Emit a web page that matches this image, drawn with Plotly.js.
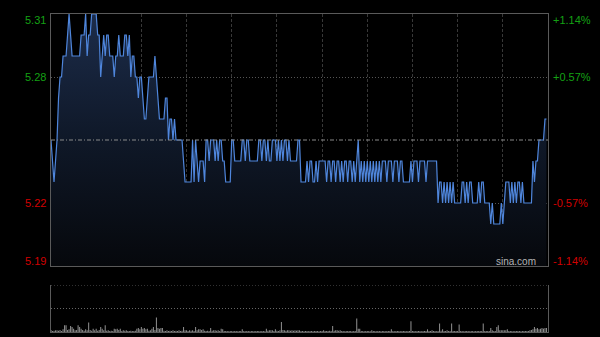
<!DOCTYPE html>
<html>
<head>
<meta charset="utf-8">
<script src="https://cdn.plot.ly/plotly-3.0.1.min.js"></script>
<style>
  html, body { margin: 0; padding: 0; background: #000; }
  #chart { width: 600px; height: 337px; }
</style>
</head>
<body>
<div id="chart"></div>
<script>
// ---- data (one value per trading minute, HK session 09:30-16:00) ----
const prices = [
  5.25,5.24,5.23,5.24,5.25,5.27,5.28,5.28,5.29,5.29,
  5.29,5.30,5.31,5.30,5.29,5.29,5.29,5.29,5.29,5.29,
  5.30,5.30,5.30,5.31,5.29,5.30,5.30,5.31,5.31,5.31,
  5.31,5.30,5.30,5.28,5.29,5.30,5.29,5.30,5.30,5.29,
  5.29,5.29,5.28,5.29,5.29,5.30,5.29,5.29,5.29,5.30,
  5.30,5.29,5.30,5.28,5.29,5.29,5.28,5.28,5.27,5.28,
  5.28,5.27,5.26,5.26,5.27,5.28,5.28,5.28,5.28,5.29,
  5.28,5.27,5.26,5.26,5.26,5.26,5.27,5.27,5.25,5.26,
  5.26,5.25,5.26,5.25,5.25,5.25,5.25,5.25,5.24,5.23,
  5.23,5.23,5.23,5.23,5.25,5.23,5.25,5.24,5.23,5.24,
  5.24,5.24,5.23,5.25,5.25,5.24,5.25,5.25,5.25,5.24,
  5.25,5.24,5.25,5.25,5.24,5.24,5.23,5.23,5.23,5.23,
  5.25,5.25,5.24,5.24,5.24,5.24,5.24,5.25,5.25,5.24,
  5.25,5.25,5.24,5.24,5.24,5.24,5.24,5.24,5.25,5.25,
  5.24,5.25,5.25,5.24,5.25,5.24,5.24,5.25,5.25,5.25,
  5.24,5.25,5.24,5.25,5.24,5.25,5.25,5.24,5.25,5.24,
  5.24,5.24,5.24,5.24,5.25,5.25,5.23,5.23,5.23,5.23,
  5.24,5.23,5.24,5.24,5.23,5.23,5.24,5.23,5.24,5.24,
  5.24,5.24,5.24,5.23,5.24,5.24,5.23,5.24,5.24,5.23,
  5.24,5.24,5.23,5.24,5.23,5.24,5.24,5.23,5.24,5.24,
  5.23,5.24,5.23,5.24,5.25,5.23,5.24,5.23,5.24,5.23,
  5.24,5.23,5.24,5.23,5.24,5.23,5.24,5.23,5.24,5.23,
  5.24,5.24,5.24,5.23,5.24,5.24,5.24,5.23,5.24,5.24,
  5.24,5.23,5.24,5.24,5.23,5.23,5.23,5.23,5.23,5.24,
  5.23,5.24,5.24,5.24,5.23,5.24,5.24,5.24,5.24,5.23,
  5.24,5.24,5.24,5.24,5.24,5.24,5.24,5.22,5.23,5.23,
  5.22,5.23,5.22,5.23,5.22,5.23,5.22,5.23,5.22,5.22,
  5.22,5.22,5.22,5.23,5.23,5.22,5.23,5.22,5.23,5.23,
  5.22,5.22,5.22,5.22,5.23,5.22,5.23,5.23,5.22,5.22,
  5.22,5.22,5.21,5.22,5.21,5.21,5.21,5.21,5.21,5.22,
  5.21,5.22,5.23,5.23,5.23,5.22,5.23,5.22,5.23,5.22,
  5.23,5.23,5.22,5.23,5.22,5.22,5.22,5.22,5.22,5.22,
  5.24,5.23,5.24,5.24,5.25,5.25,5.25,5.25,5.26,5.26
];
const volumes = [
  6,3,4,5,5,4,6,3,8,20,
  20,6,8,18,15,10,5,6,20,15,
  10,6,4,8,5,28,6,4,10,5,
  10,4,6,15,10,5,20,4,5,3,
  4,3,10,8,10,6,10,3,5,4,
  5,3,3,4,3,3,4,10,12,8,
  15,10,12,8,10,4,5,10,15,6,
  43,12,10,12,12,4,3,5,3,4,
  3,5,3,4,3,5,3,4,15,5,
  5,3,5,4,5,3,15,5,8,8,
  6,8,4,3,4,3,12,4,5,5,
  4,5,3,10,8,3,3,3,2,3,
  3,2,3,3,2,3,3,8,3,2,
  3,3,2,3,3,2,3,3,3,2,
  3,3,2,10,4,5,5,5,3,8,
  4,3,5,30,6,5,4,5,5,4,
  5,4,5,4,5,5,3,3,2,3,
  3,2,3,3,2,3,3,3,2,3,
  3,5,3,3,3,4,3,18,4,5,
  5,4,5,3,3,2,3,3,3,3,
  2,3,3,40,10,10,3,3,2,3,
  3,3,2,5,3,3,2,3,3,2,
  3,3,2,3,3,3,8,3,2,3,
  3,3,2,3,3,3,2,3,3,32,
  3,3,2,3,3,3,2,3,3,3,
  8,3,3,5,3,3,2,3,25,4,
  8,3,3,5,3,3,25,3,3,3,
  3,22,3,3,2,3,3,3,2,3,
  3,2,3,3,3,3,3,25,3,3,
  3,3,12,5,3,3,15,20,5,5,
  5,5,5,8,3,3,3,2,3,3,
  3,3,2,3,3,3,3,3,5,6,
  8,15,10,12,8,10,12,10,12,12
];
const prevClose = 5.25;
const priceTicks = [5.31, 5.28, 5.22, 5.19];
const priceLabels = ['5.31', '5.28', '5.22', '5.19'];
const pctLabels = ['+1.14%', '+0.57%', '-0.57%', '-1.14%'];
const sessionMinutes = 330;
const halfHourTicks = [30,60,90,120,150,180,210,240,270,300];
const volMax = 140;

const minutes = prices.map((_, i) => i);

const GREEN = '#14a014';
const RED = '#d20000';
const FONT = 'Liberation Sans, Arial, sans-serif';

const priceTrace = {
  x: minutes, y: prices, type: 'scatter', mode: 'lines',
  line: { color: '#4f86dc', width: 1.2 },
  fill: 'tozeroy',
  fillgradient: {
    type: 'vertical', start: priceTicks[3], stop: priceTicks[0],
    colorscale: [[0, 'rgb(6,8,12)'], [0.5, 'rgb(15,24,40)'], [1, 'rgb(28,44,74)']]
  },
  xaxis: 'x', yaxis: 'y', hoverinfo: 'skip'
};
const volTrace = {
  x: minutes, y: volumes, type: 'bar',
  marker: { color: '#8a8a8a', line: { width: 0 } },
  width: 0.7,
  xaxis: 'x2', yaxis: 'y2', hoverinfo: 'skip'
};

const annotations = [];
priceTicks.forEach((v, i) => {
  const col = v > prevClose ? GREEN : RED;
  const anchor = i === 0 ? 'top' : (i === priceTicks.length - 1 ? 'bottom' : 'middle');
  const ys = i === 0 ? 2 : (i === priceTicks.length - 1 ? -3 : 0);
  annotations.push({ xref: 'paper', yref: 'y', x: 0, y: v, text: priceLabels[i],
    xanchor: 'right', yanchor: anchor, xshift: -3, yshift: ys, showarrow: false,
    font: { family: FONT, size: 11, color: col } });
  annotations.push({ xref: 'paper', yref: 'y', x: 1, y: v, text: pctLabels[i],
    xanchor: 'left', yanchor: anchor, xshift: 3, yshift: ys, showarrow: false,
    font: { family: FONT, size: 11, color: col } });
});
annotations.push({ xref: 'paper', yref: 'y', x: 1, y: priceTicks[3], text: 'sina.com',
  xanchor: 'right', yanchor: 'bottom', xshift: -10, yshift: -3, showarrow: false,
  font: { family: FONT, size: 10, color: '#b4b4b4' } });

const layout = {
  width: 600, height: 337,
  margin: { l: 51, r: 52, t: 14, b: 5, pad: 0 },
  paper_bgcolor: '#000', plot_bgcolor: '#000',
  showlegend: false,
  bargap: 0.3,
  xaxis: {
    domain: [0, 1], range: [0, sessionMinutes], anchor: 'y',
    tickvals: halfHourTicks, showticklabels: false, ticks: '',
    showgrid: true, gridcolor: '#383838', griddash: '3px,2px', gridwidth: 1,
    showline: true, linecolor: '#5a5a5a', linewidth: 1, mirror: true,
    zeroline: false, fixedrange: true
  },
  yaxis: {
    domain: [0.2075, 1], range: [priceTicks[3], priceTicks[0]], anchor: 'x',
    tickvals: [priceTicks[1], priceTicks[2]], showticklabels: false, ticks: '',
    showgrid: true, gridcolor: '#555', griddash: '1px,2px', gridwidth: 1,
    showline: true, linecolor: '#5a5a5a', linewidth: 1, mirror: true,
    zeroline: false, fixedrange: true
  },
  xaxis2: {
    domain: [0, 1], range: [0, sessionMinutes], anchor: 'y2',
    showticklabels: false, ticks: '', showgrid: false,
    showline: true, linecolor: '#5a5a5a', linewidth: 1,
    zeroline: false, fixedrange: true
  },
  yaxis2: {
    domain: [0, 0.1478], range: [0, volMax], anchor: 'x2',
    tickvals: [volMax / 2], showticklabels: false, ticks: '',
    showgrid: true, gridcolor: '#666', griddash: '1px,2px', gridwidth: 1,
    showline: true, linecolor: '#5a5a5a', linewidth: 1, mirror: true,
    zeroline: false, fixedrange: true
  },
  shapes: [{
    type: 'line', xref: 'paper', yref: 'y', x0: 0, x1: 1, y0: prevClose, y1: prevClose,
    line: { color: '#8a8a8a', width: 1, dash: '4px,2px,1px,2px' }, layer: 'above'
  }, {
    type: 'line', xref: 'x2', yref: 'y2', x0: 0, x1: sessionMinutes, y0: volMax, y1: volMax,
    line: { color: '#666', width: 1, dash: '1px,2px' }, layer: 'above'
  }],
  annotations: annotations
};

Plotly.newPlot('chart', [priceTrace, volTrace], layout, { staticPlot: true, displayModeBar: false });
</script>
</body>
</html>
